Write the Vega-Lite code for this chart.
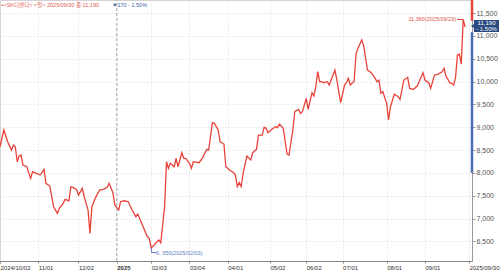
{
  "$schema": "https://vega.github.io/schema/vega-lite/v6.json",
  "width": 472,
  "height": 261,
  "padding": {"left": 0, "top": 0, "right": 28, "bottom": 10},
  "autosize": {"type": "none"},
  "background": "white",
  "config": {"view": {"stroke": "#d4d4d4"}, "font": "Liberation Sans"},
  "datasets": {
    "price": [
      {"i":0,"p":8572},{"i":2,"p":8938},{"i":4,"p":8681},{"i":6,"p":8500},{"i":7,"p":8609},{"i":8,"p":8572},{"i":9,"p":8244},{"i":10,"p":8368},{"i":11,"p":8390},{"i":12,"p":8171},{"i":14,"p":8134},{"i":16,"p":7880},{"i":17,"p":8025},{"i":19,"p":7989},{"i":21,"p":7952},{"i":23,"p":8077},{"i":24,"p":7771},{"i":26,"p":7711},{"i":28,"p":7258},{"i":30,"p":7113},{"i":31,"p":7223},{"i":33,"p":7332},{"i":34,"p":7420},{"i":36,"p":7389},{"i":37,"p":7696},{"i":38,"p":7683},{"i":40,"p":7639},{"i":41,"p":7514},{"i":43,"p":7661},{"i":44,"p":7477},{"i":46,"p":7186},{"i":47,"p":6675},{"i":48,"p":7258},{"i":50,"p":7464},{"i":52,"p":7624},{"i":54,"p":7639},{"i":56,"p":7683},{"i":57,"p":7771},{"i":59,"p":7565},{"i":60,"p":7296},{"i":62,"p":7186},{"i":63,"p":7368},{"i":65,"p":7389},{"i":67,"p":7368},{"i":69,"p":7186},{"i":71,"p":7039},{"i":72,"p":7098},{"i":74,"p":6894},{"i":77,"p":6601},{"i":78,"p":6566},{"i":79,"p":6350},{"i":82,"p":6491},{"i":83,"p":6529},{"i":84,"p":6470},{"i":86,"p":7258},{"i":87,"p":8244},{"i":88,"p":8098},{"i":89,"p":8208},{"i":90,"p":8171},{"i":91,"p":8134},{"i":92,"p":8318},{"i":93,"p":8134},{"i":95,"p":8440},{"i":96,"p":8318},{"i":97,"p":8318},{"i":99,"p":8208},{"i":100,"p":8098},{"i":101,"p":8244},{"i":104,"p":8222},{"i":106,"p":8340},{"i":108,"p":8515},{"i":109,"p":8500},{"i":111,"p":9098},{"i":112,"p":9084},{"i":114,"p":8938},{"i":115,"p":8681},{"i":117,"p":8631},{"i":118,"p":8134},{"i":120,"p":8062},{"i":122,"p":8003},{"i":123,"p":7952},{"i":124,"p":7700},{"i":125,"p":7790},{"i":126,"p":7700},{"i":127,"p":7989},{"i":129,"p":8368},{"i":131,"p":8281},{"i":132,"p":8440},{"i":134,"p":8515},{"i":135,"p":8828},{"i":137,"p":8828},{"i":138,"p":8997},{"i":139,"p":8980},{"i":140,"p":8879},{"i":142,"p":8953},{"i":144,"p":9011},{"i":145,"p":8990},{"i":146,"p":9069},{"i":148,"p":8975},{"i":149,"p":8681},{"i":150,"p":8412},{"i":151,"p":8390},{"i":153,"p":8938},{"i":154,"p":9339},{"i":156,"p":9391},{"i":157,"p":9303},{"i":158,"p":9339},{"i":160,"p":9632},{"i":161,"p":9391},{"i":163,"p":9755},{"i":164,"p":9682},{"i":165,"p":9886},{"i":166,"p":10215},{"i":167,"p":9996},{"i":168,"p":9996},{"i":169,"p":9974},{"i":171,"p":9996},{"i":172,"p":9923},{"i":173,"p":10033},{"i":175,"p":10252},{"i":176,"p":10033},{"i":177,"p":9777},{"i":178,"p":9536},{"i":180,"p":9923},{"i":181,"p":9974},{"i":182,"p":10070},{"i":183,"p":9923},{"i":185,"p":10000},{"i":186,"p":10600},{"i":187,"p":10727},{"i":189,"p":10909},{"i":190,"p":10780},{"i":192,"p":10252},{"i":194,"p":10193},{"i":196,"p":10070},{"i":197,"p":9996},{"i":198,"p":10030},{"i":199,"p":9741},{"i":200,"p":9777},{"i":202,"p":9523},{"i":203,"p":9157},{"i":204,"p":9448},{"i":206,"p":9720},{"i":208,"p":9667},{"i":209,"p":9610},{"i":211,"p":10033},{"i":213,"p":10092},{"i":214,"p":9850},{"i":216,"p":9829},{"i":218,"p":9901},{"i":219,"p":9996},{"i":221,"p":10193},{"i":222,"p":10033},{"i":224,"p":9974},{"i":225,"p":9850},{"i":227,"p":10142},{"i":229,"p":10164},{"i":231,"p":10215},{"i":232,"p":10289},{"i":233,"p":10120},{"i":235,"p":9974},{"i":236,"p":9960},{"i":237,"p":9923},{"i":238,"p":10092},{"i":239,"p":10580},{"i":240,"p":10600},{"i":241,"p":10383},{"i":242,"p":11360},{"i":243,"p":11190}
    ]
  },
  "encoding": {
    "x": {
      "field": "i", "type": "quantitative", "title": null,
      "scale": {"domain": [0, 246.6], "nice": false, "zero": false},
      "axis": {
        "values": [0, 20, 41, 61, 79, 99, 119, 141, 160, 179, 202, 222, 245],
        "labelExpr": "['2024/10/02','11/01','12/02','2025','02/03','03/04','04/01','05/02','06/02','07/01','08/01','09/01','2025/09/30'][indexof([0,20,41,61,79,99,119,141,160,179,202,222,245], datum.value)]",
        "labelAlign": "left", "labelFontSize": 6, "labelColor": "#333", "labelPadding": 1,
        "labelOverlap": false, "labelFlush": false, "labelBound": false,
        "labelFontWeight": {"condition": {"test": "datum.value == 61", "value": "bold"}, "value": "normal"},
        "tickSize": 2, "tickColor": "#888", "domainColor": "#888",
        "grid": true, "gridColor": "#dddddd", "gridDash": [1, 2]
      }
    },
    "y": {
      "field": "p", "type": "quantitative", "title": null,
      "scale": {"domain": [6070, 11785], "nice": false, "zero": false},
      "axis": {
        "orient": "right",
        "values": [6500, 7000, 7500, 8000, 8500, 9000, 9500, 10000, 10500, 11000, 11500],
        "labelExpr": "floor(datum.value / 1000) + ',' + (datum.value % 1000 == 0 ? '000' : '500')",
        "labelOverlap": false, "labelBound": false,
        "labelFontSize": 7, "labelColor": "#555", "labelPadding": 1,
        "tickSize": 3, "tickColor": "#999", "domainColor": "#999",
        "grid": true, "gridColor": "#dddddd", "gridDash": [1, 2]
      }
    }
  },
  "layer": [
    {
      "data": {"values": [{"i": 61, "p": 6070, "p2": 11785}]},
      "mark": {"type": "rule", "color": "#a8a8a8", "strokeWidth": 1, "strokeDash": [3, 2]},
      "encoding": {"y2": {"field": "p2"}}
    },
    {
      "data": {"name": "price"},
      "mark": {"type": "line", "color": "#e8433a", "strokeWidth": 1.3},
      "encoding": {}
    },
    {
      "data": {"values": [{"i": 246.6, "p": 11785, "p2": 11330}]},
      "mark": {"type": "rule", "color": "#e0463c", "strokeWidth": 2.5},
      "encoding": {"y2": {"field": "p2"}}
    },
    {
      "data": {"values": [{"i": 246.6, "p": 11080, "p2": 8000}]},
      "mark": {"type": "rule", "color": "#4a6db3", "strokeWidth": 2.5},
      "encoding": {"y2": {"field": "p2"}}
    },
    {
      "data": {"values": [{"i": 247.6, "i2": 260.7, "p": 11347, "p2": 11084}]},
      "mark": {"type": "rect", "color": "#2b4a80"},
      "encoding": {"x2": {"field": "i2"}, "y2": {"field": "p2"}}
    },
    {
      "data": {"values": [{"i": 247.2, "p": 11215}]},
      "mark": {"type": "point", "shape": "triangle-left", "filled": true, "color": "#2b4a80", "size": 30, "opacity": 1}
    },
    {
      "data": {"values": [{"i": 254.2, "p": 11290, "t": "11,190"}, {"i": 254.2, "p": 11145, "t": "- 1.50%"}]},
      "mark": {"type": "text", "color": "white", "fontSize": 6, "align": "center", "baseline": "middle"},
      "encoding": {"text": {"field": "t"}}
    },
    {
      "data": {"values": [{"i": 238.8, "i2": 242, "p": 11360}]},
      "mark": {"type": "rule", "color": "#e0463c", "strokeWidth": 1},
      "encoding": {"x2": {"field": "i2"}}
    },
    {
      "data": {"values": [{"i": 238.8, "p": 11360, "t": "11,360(2025/09/29)"}]},
      "mark": {"type": "text", "color": "#e0524a", "fontSize": 5.5, "align": "right", "baseline": "middle", "dx": -1},
      "encoding": {"text": {"field": "t"}}
    },
    {
      "data": {"values": [{"i": 79.2, "p": 6350, "p2": 6255}]},
      "mark": {"type": "rule", "color": "#5a7bbf", "strokeWidth": 1},
      "encoding": {"y2": {"field": "p2"}}
    },
    {
      "data": {"values": [{"i": 79.2, "i2": 81.5, "p": 6255}]},
      "mark": {"type": "rule", "color": "#5a7bbf", "strokeWidth": 1},
      "encoding": {"x2": {"field": "i2"}}
    },
    {
      "data": {"values": [{"i": 81.5, "p": 6255, "t": "6, 350(2025/02/03)"}]},
      "mark": {"type": "text", "color": "#5a7bbf", "fontSize": 5.5, "align": "left", "baseline": "middle"},
      "encoding": {"text": {"field": "t"}}
    },
    {
      "data": {"values": [{"i": 0.8, "p": 11685, "t": "▪<SK디앤디> <일> 2025/09/30 종:11,190"}]},
      "mark": {"type": "text", "color": "#e05a50", "fontSize": 5.5, "font": "Liberation Sans, Noto Sans CJK KR", "align": "left", "baseline": "middle"},
      "encoding": {"text": {"field": "t"}}
    },
    {
      "data": {"values": [{"i": 58.5, "p": 11685, "t": "▼170 - 1.50%"}]},
      "mark": {"type": "text", "color": "#3c5ea8", "fontSize": 5.5, "font": "Liberation Sans, Noto Sans CJK KR", "align": "left", "baseline": "middle"},
      "encoding": {"text": {"field": "t"}}
    }
  ]
}
